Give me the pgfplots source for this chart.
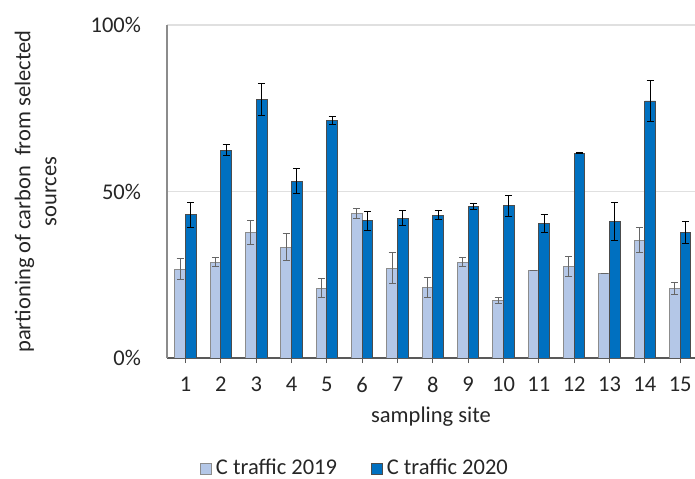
\documentclass[border=0pt]{standalone}
\usepackage{fontspec}
\setmainfont{Carlito}
\usepackage{pgfplots}
\usepackage{pgfplotstable}
\pgfplotsset{compat=1.18}

\definecolor{lightbar}{HTML}{B4C7E7}
\definecolor{darkbar}{HTML}{0070C0}
\definecolor{txt}{HTML}{262626}

% share of carbon from traffic, per sampling site (value, error)
\pgfplotstableread{
site val err
1  26.7 3.1
2  28.8 1.3
3  37.7 3.7
4  33.3 4.05
5  20.9 2.85
6  43.3 1.45
7  27.0 4.65
8  21.2 3.0
9  28.8 1.35
10 17.4 0.9
11 26.4 0
12 27.5 3.05
13 25.4 0
14 35.4 3.8
15 20.8 1.85
}\trafficA

\pgfplotstableread{
site val err
1  43.0 3.7
2  62.4 1.6
3  77.6 4.75
4  53.1 3.7
5  71.4 1.2
6  41.2 2.85
7  42.0 2.25
8  42.9 1.4
9  45.5 0.9
10 45.7 3.2
11 40.4 2.6
12 61.5 0.2
13 40.9 5.7
14 77.2 6.25
15 37.7 3.3
}\trafficB

\begin{document}
\fontsize{11.25}{13.5}\selectfont
\begin{tikzpicture}
\begin{axis}[
  scale only axis,
  width=264pt, height=166.5pt,
  ybar=0pt, bar width=5.35pt,
  xmin=0.475, xmax=15.42,
  ymin=0, ymax=100,
  axis x line*=bottom, axis y line*=left,
  x axis line style={black!65, line width=0.6pt},
  y axis line style={black!45, line width=0.6pt},
  xtick={1,...,15},
  ytick={0,50,100},
  tick align=outside,
  major tick length=2.6pt,
  xtick style={black!65, line width=0.6pt},
  ytick style={draw=none},
  ymajorgrids,
  grid style={black!12, line width=0.6pt},
  /pgf/number format/assume math mode=true,
  yticklabel={\pgfmathprintnumber{\tick}\%},
  ticklabel style={font=\fontsize{11.25}{13.5}\selectfont, text=txt},
  yticklabel style={xshift=-6.5pt},
  xticklabel style={yshift=-3pt},
  xlabel={sampling site},
  xlabel style={at={(axis description cs:0.5,-0.177)}, anchor=center, text=txt},
  ylabel={partioning of carbon\ \ from selected\\sources},
  ylabel style={at={(axis description cs:-0.249,0.5)}, anchor=center,
                align=center, text=txt,
                font=\fontsize{11.25}{13}\selectfont},
  legend columns=2,
  legend style={draw=none, fill=none,
                at={(axis description cs:0.358,-0.333)}, anchor=center,
                font=\fontsize{11.25}{13.5}\selectfont, text=txt,
                /tikz/every even column/.append style={column sep=15pt}},
  legend image code/.code={\draw[#1] (0pt,-2.75pt) rectangle (5.5pt,2.75pt);},
  error bars/y dir=both,
  error bars/y explicit,
]
\addplot[fill=lightbar, draw=black!45, line width=0.4pt,
  error bars/error bar style={black!60, line width=0.5pt},
  error bars/error mark options={rotate=90, mark size=1.8pt, black!60, line width=0.5pt}]
  table[x=site, y=val, y error=err] {\trafficA};
\addplot[fill=darkbar, draw=black!70, line width=0.4pt,
  error bars/error bar style={black, line width=0.5pt},
  error bars/error mark options={rotate=90, mark size=1.8pt, black, line width=0.5pt}]
  table[x=site, y=val, y error=err] {\trafficB};
\legend{C traffic 2019, C traffic 2020}
\end{axis}
\pgfresetboundingbox
\path ([xshift=-83.5pt,yshift=-60.5pt]current axis.south west)
      rectangle ([yshift=12.5pt]current axis.north east);
\end{tikzpicture}
\end{document}
